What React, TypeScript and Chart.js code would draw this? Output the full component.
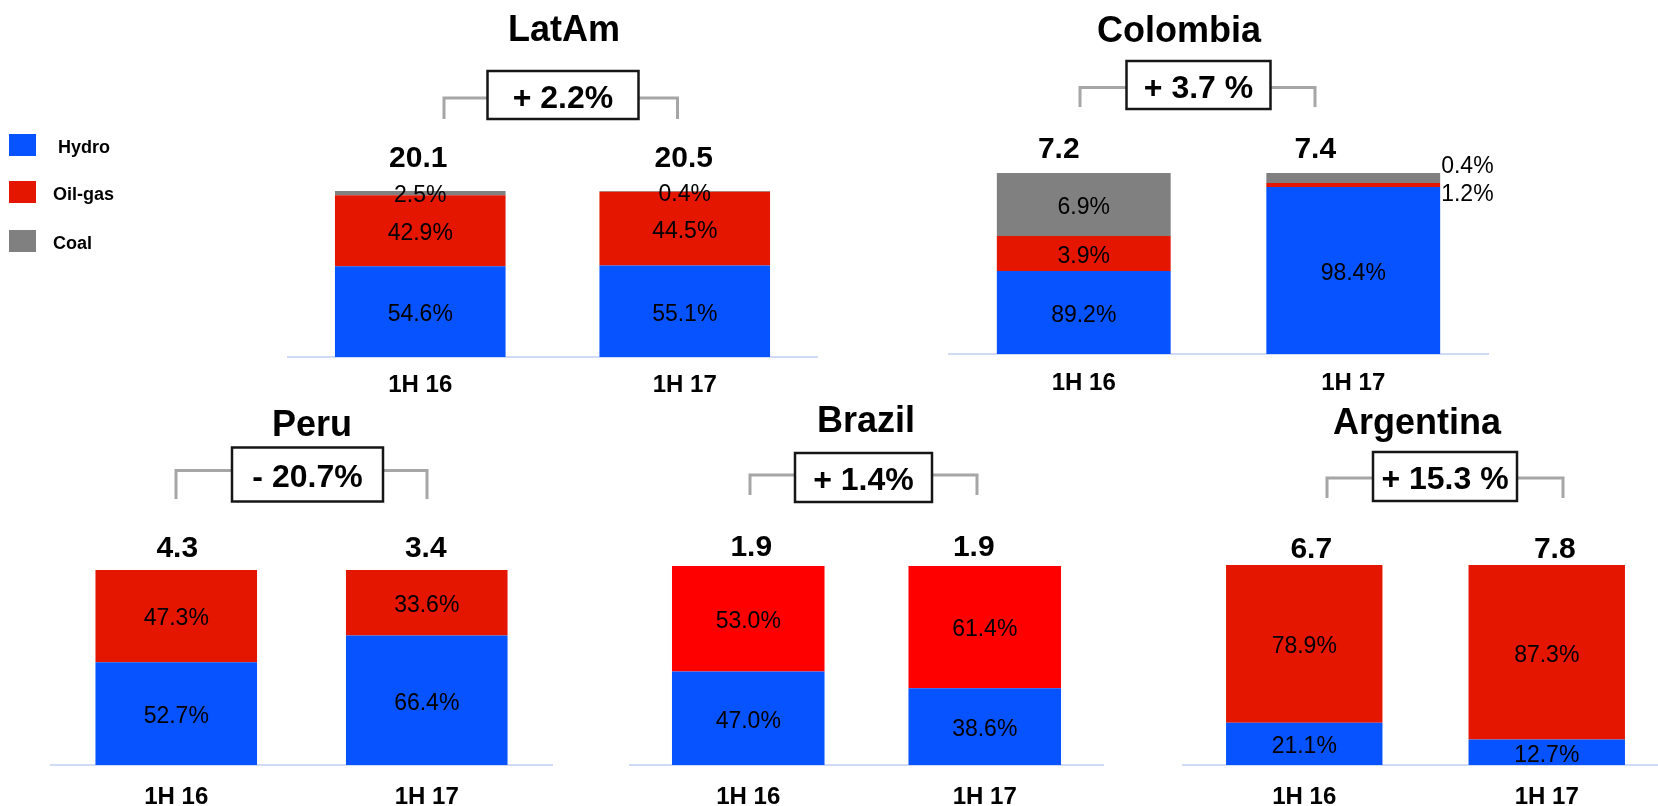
import React, { useEffect, useRef } from "react";
import { Chart, registerables } from "chart.js";

Chart.register(...registerables);

// ---------------- data ----------------
const periods = ["1H 16", "1H 17"];
const seriesNames = ["Hydro", "Oil-gas", "Coal"];

// LatAm (shares of generation, %)
const latamHydro = [54.6, 55.1];
const latamOilGas = [42.9, 44.5];
const latamCoal = [2.5, 0.4];
const latamTotals = [20.1, 20.5];
const latamChange = "+ 2.2%";
const latamLabels = [["54.6%", "55.1%"], ["42.9%", "44.5%"], ["2.5%", "0.4%"]];

// Colombia (bars as drawn in the picture; labels as printed)
const colombiaHydro = [45.9, 92.3];
const colombiaOilGas = [19.3, 2.2];
const colombiaCoal = [34.8, 5.5];
const colombiaTotals = [7.2, 7.4];
const colombiaChange = "+ 3.7 %";
const colombiaLabels = [["89.2%", "98.4%"], ["3.9%", "1.2%"], ["6.9%", "0.4%"]];

// Peru
const peruHydro = [52.7, 66.4];
const peruOilGas = [47.3, 33.6];
const peruCoal = [0, 0];
const peruTotals = [4.3, 3.4];
const peruChange = "- 20.7%";
const peruLabels = [["52.7%", "66.4%"], ["47.3%", "33.6%"], ["", ""]];

// Brazil
const brazilHydro = [47.0, 38.6];
const brazilOilGas = [53.0, 61.4];
const brazilCoal = [0, 0];
const brazilTotals = [1.9, 1.9];
const brazilChange = "+ 1.4%";
const brazilLabels = [["47.0%", "38.6%"], ["53.0%", "61.4%"], ["", ""]];

// Argentina
const argentinaHydro = [21.1, 12.7];
const argentinaOilGas = [78.9, 87.3];
const argentinaCoal = [0, 0];
const argentinaTotals = [6.7, 7.8];
const argentinaChange = "+ 15.3 %";
const argentinaLabels = [["21.1%", "12.7%"], ["78.9%", "87.3%"], ["", ""]];

// ---------------- style / layout ----------------
const FONT = "'Liberation Sans', Arial, Helvetica, sans-serif";
const CW = 1700;
const CH = 806;
const AXIS_H = 60;
const HYDRO_BLUE = "#0753FF";
const OIL_RED = "#E41600";
const BRAZIL_RED = "#FF0000";
const COAL_GRAY = "#808080";
const BASELINE = "#CFDBF5";
const BRACKET = "#A6A6A6";

type Box = { l: number; r: number; t: number; b: number };
type Panel = {
  title: string;
  change: string;
  hydro: number[];
  oil: number[];
  coal: number[];
  totals: number[];
  labels: string[][];
  oilColor: string;
  area: Box;
  titleX: number;
  titleY: number;
  box: Box;
  bracket: { l: number; r: number; y: number; b: number };
  totalDx: number[];
  totalGap: number;
  tickCenter: number;
  outside?: { ds: number; idx: number; dy: number }[];
};

const panels: Panel[] = [
  {
    title: "LatAm", change: latamChange, hydro: latamHydro, oil: latamOilGas, coal: latamCoal,
    totals: latamTotals, labels: latamLabels, oilColor: OIL_RED,
    area: { l: 288, r: 817, t: 191, b: 357 }, titleX: 564, titleY: 31.5,
    box: { l: 487.5, r: 638.5, t: 71, b: 119 }, bracket: { l: 444, r: 677.5, y: 98, b: 119 },
    totalDx: [-2, -1], totalGap: 32.5, tickCenter: 28,
  },
  {
    title: "Colombia", change: colombiaChange, hydro: colombiaHydro, oil: colombiaOilGas, coal: colombiaCoal,
    totals: colombiaTotals, labels: colombiaLabels, oilColor: OIL_RED,
    area: { l: 949, r: 1488, t: 173, b: 354 }, titleX: 1179, titleY: 32.5,
    box: { l: 1126.5, r: 1270.5, t: 61, b: 109 }, bracket: { l: 1080, r: 1315, y: 87.5, b: 107 },
    totalDx: [-25, -38], totalGap: 23, tickCenter: 29.5,
    outside: [{ ds: 2, idx: 1, dy: -11 }, { ds: 1, idx: 1, dy: 10 }],
  },
  {
    title: "Peru", change: peruChange, hydro: peruHydro, oil: peruOilGas, coal: peruCoal,
    totals: peruTotals, labels: peruLabels, oilColor: OIL_RED,
    area: { l: 51, r: 552, t: 570, b: 765 }, titleX: 312, titleY: 426.5,
    box: { l: 232, r: 383, t: 447.5, b: 501.5 }, bracket: { l: 176, r: 427, y: 470.5, b: 499 },
    totalDx: [1, -1], totalGap: 21, tickCenter: 32,
  },
  {
    title: "Brazil", change: brazilChange, hydro: brazilHydro, oil: brazilOilGas, coal: brazilCoal,
    totals: brazilTotals, labels: brazilLabels, oilColor: BRAZIL_RED,
    area: { l: 630, r: 1103, t: 566, b: 765 }, titleX: 866, titleY: 422,
    box: { l: 795, r: 932, t: 453, b: 502 }, bracket: { l: 750, r: 977, y: 475, b: 495 },
    totalDx: [3, -11], totalGap: 18.5, tickCenter: 32,
  },
  {
    title: "Argentina", change: argentinaChange, hydro: argentinaHydro, oil: argentinaOilGas, coal: argentinaCoal,
    totals: argentinaTotals, labels: argentinaLabels, oilColor: OIL_RED,
    area: { l: 1183, r: 1668, t: 565, b: 765 }, titleX: 1417, titleY: 424,
    box: { l: 1373, r: 1517, t: 452, b: 501 }, bracket: { l: 1327, r: 1563, y: 478, b: 498 },
    totalDx: [7, 8], totalGap: 15.5, tickCenter: 32,
  },
];

const legendColors = [HYDRO_BLUE, OIL_RED, COAL_GRAY];
const legendLayout = [
  { sy: 134, tx: 58 },
  { sy: 181, tx: 53 },
  { sy: 230, tx: 53 },
];

function drawLegend(ctx: CanvasRenderingContext2D) {
  ctx.save();
  ctx.font = `bold 18px ${FONT}`;
  ctx.textAlign = "left";
  ctx.textBaseline = "middle";
  seriesNames.forEach((name, i) => {
    const L = legendLayout[i];
    ctx.fillStyle = legendColors[i];
    ctx.fillRect(9, L.sy, 27, 22);
    ctx.fillStyle = "#000";
    ctx.fillText(name, L.tx, L.sy + 14);
  });
  ctx.restore();
}

function drawDecor(chart: any, p: Panel, withLegend: boolean) {
  const ctx: CanvasRenderingContext2D = chart.ctx;
  const xs = chart.scales.x;
  const ys = chart.scales.y;
  ctx.save();
  ctx.fillStyle = "#000";
  ctx.textAlign = "center";
  ctx.textBaseline = "middle";

  // title
  ctx.font = `bold 36px ${FONT}`;
  ctx.fillText(p.title, p.titleX, p.titleY);

  // bracket
  const br = p.bracket;
  ctx.strokeStyle = BRACKET;
  ctx.lineWidth = 3;
  ctx.beginPath();
  ctx.moveTo(br.l, br.b);
  ctx.lineTo(br.l, br.y);
  ctx.lineTo(br.r, br.y);
  ctx.lineTo(br.r, br.b);
  ctx.stroke();

  // change box
  const b = p.box;
  ctx.fillStyle = "#fff";
  ctx.fillRect(b.l, b.t, b.r - b.l, b.b - b.t);
  ctx.strokeStyle = "#161616";
  ctx.lineWidth = 2.5;
  ctx.strokeRect(b.l, b.t, b.r - b.l, b.b - b.t);
  ctx.fillStyle = "#000";
  ctx.font = `bold 32px ${FONT}`;
  ctx.fillText(p.change, (b.l + b.r) / 2, (b.t + b.b) / 2 + 4);

  // totals
  ctx.font = `bold 30px ${FONT}`;
  p.totals.forEach((t, j) => {
    const x = xs.getPixelForValue(j);
    const top = ys.getPixelForValue(p.hydro[j] + p.oil[j] + p.coal[j]);
    ctx.fillText(t.toFixed(1), x + p.totalDx[j], top - p.totalGap);
  });

  // segment labels
  ctx.font = `23px ${FONT}`;
  for (let ds = 0; ds < 3; ds++) {
    const meta = chart.getDatasetMeta(ds);
    meta.data.forEach((el: any, j: number) => {
      const txt = p.labels[ds][j];
      if (!txt) return;
      const { x, y, base, width } = el.getProps(["x", "y", "base", "width"], true);
      const cy = (y + base) / 2;
      const out = p.outside?.find((o) => o.ds === ds && o.idx === j);
      if (out) {
        ctx.textAlign = "left";
        ctx.fillText(txt, x + width / 2 + 1, cy + out.dy);
        ctx.textAlign = "center";
      } else {
        ctx.fillText(txt, x, cy + 3);
      }
    });
  }
  ctx.restore();
  if (withLegend) drawLegend(ctx);
}

function makeConfig(p: Panel, withLegend: boolean): any {
  const labelLH = 24;
  return {
    type: "bar",
    data: {
      labels: periods,
      datasets: [
        { label: seriesNames[0], data: p.hydro, backgroundColor: HYDRO_BLUE },
        { label: seriesNames[1], data: p.oil, backgroundColor: p.oilColor },
        { label: seriesNames[2], data: p.coal, backgroundColor: COAL_GRAY },
      ].map((d) => ({ ...d, borderWidth: 0, barPercentage: 0.645, categoryPercentage: 1 })),
    },
    options: {
      responsive: false,
      animation: false,
      devicePixelRatio: 1,
      layout: {
        padding: {
          left: p.area.l,
          right: CW - p.area.r,
          top: p.area.t,
          bottom: CH - p.area.b - AXIS_H,
        },
      },
      plugins: {
        legend: { display: false },
        tooltip: { enabled: false },
        title: { display: false },
      },
      scales: {
        x: {
          stacked: true,
          grid: { display: false, drawTicks: false },
          border: { display: true, color: BASELINE, width: 2 },
          ticks: {
            color: "#000",
            font: { family: FONT, size: 24, weight: "bold", lineHeight: 1 },
            padding: p.tickCenter - labelLH / 2,
            maxRotation: 0,
            autoSkip: false,
          },
          afterFit: (s: any) => {
            s.height = AXIS_H;
          },
        },
        y: { stacked: true, display: false, min: 0, max: 100 },
      },
    },
    plugins: [
      {
        id: "panelDecor",
        afterDraw: (chart: any) => drawDecor(chart, p, withLegend),
      },
    ],
  };
}

export default function App() {
  const refs = useRef<(HTMLCanvasElement | null)[]>([]);
  useEffect(() => {
    const charts = panels.map((p, k) => new Chart(refs.current[k] as HTMLCanvasElement, makeConfig(p, k === 0)));
    return () => charts.forEach((c) => c.destroy());
  }, []);
  return (
    <div
      style={{
        position: "fixed",
        left: 0,
        top: 0,
        width: 1658,
        height: 806,
        overflow: "hidden",
        background: "#fff",
      }}
    >
      {panels.map((p, k) => (
        <canvas
          key={p.title}
          ref={(el) => {
            refs.current[k] = el;
          }}
          width={CW}
          height={CH}
          style={{ position: "absolute", left: 0, top: 0, width: CW, height: CH }}
        />
      ))}
    </div>
  );
}
